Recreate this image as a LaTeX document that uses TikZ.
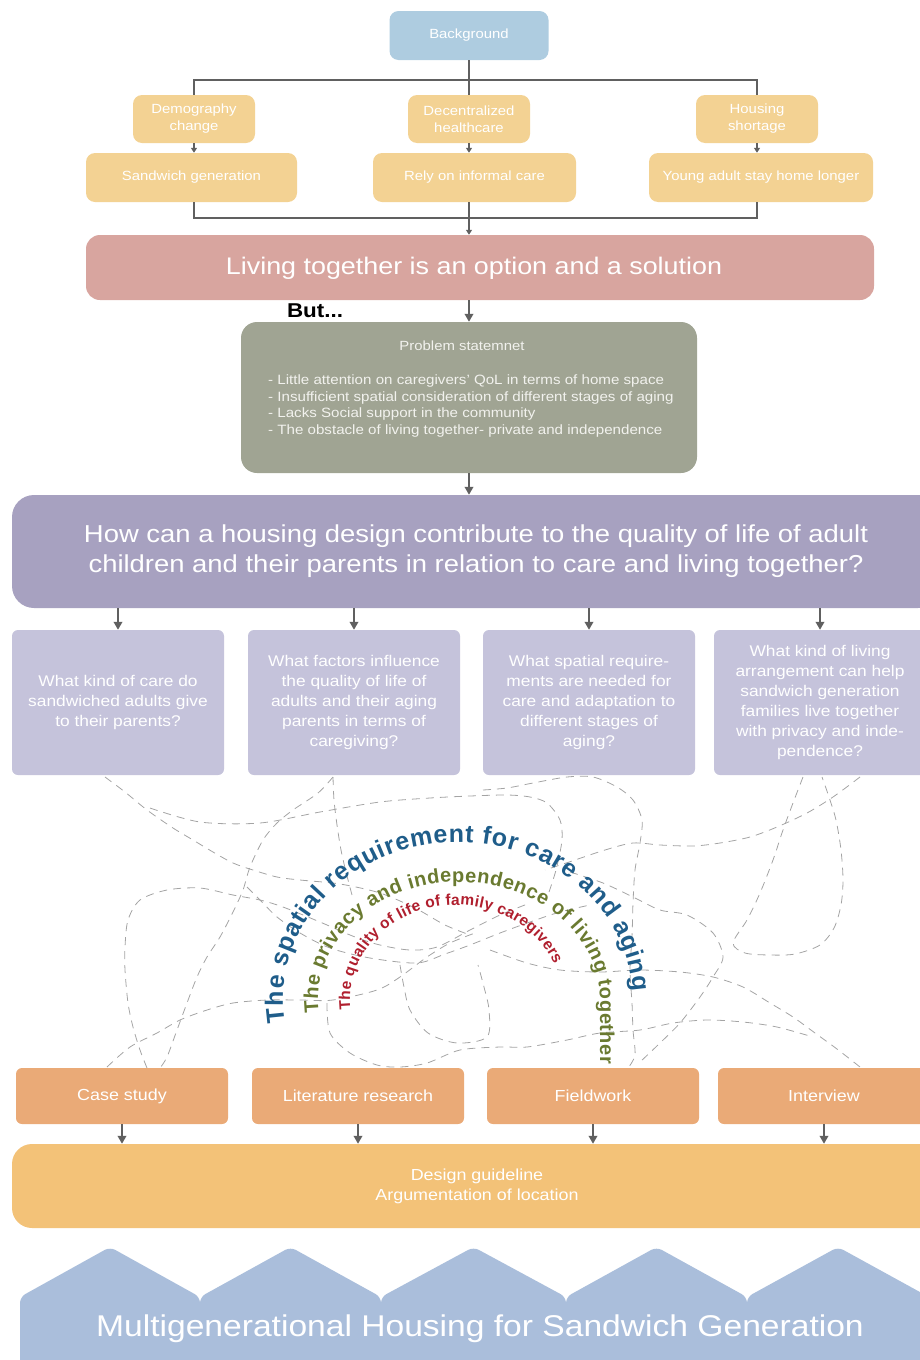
\documentclass[tikz,border=0pt]{standalone}
\usepackage{fontspec}
\setmainfont{Liberation Sans}[FakeStretch=1.12]
\newfontfamily\arcfont{Liberation Sans}
\usetikzlibrary{arrows.meta,decorations.text}
\definecolor{cbg}{HTML}{AECCE0}
\definecolor{cyel}{HTML}{F3D293}
\definecolor{cliv}{HTML}{D8A59F}
\definecolor{cprob}{HTML}{A0A493}
\definecolor{cptxt}{HTML}{F2F2EE}
\definecolor{cq}{HTML}{A7A1C0}
\definecolor{csub}{HTML}{C5C3DB}
\definecolor{cmeth}{HTML}{EAAA77}
\definecolor{cdes}{HTML}{F3C278}
\definecolor{chouse}{HTML}{AABEDB}
\definecolor{cgray}{HTML}{606060}
\definecolor{cnet}{HTML}{A4A4A4}
\definecolor{cblue}{HTML}{1F5D8A}
\definecolor{cgreen}{HTML}{6A7A30}
\definecolor{cred}{HTML}{B01F2E}
\begin{document}
\begin{tikzpicture}[x=1pt,y=-1pt,
  base/.style={inner sep=0pt, text=white, align=center},
  topbox/.style={base, fill=cyel, rounded corners=9pt, font=\fontsize{13.3}{17}\selectfont},
  conn/.style={draw=cgray, line width=2pt},
  arrs/.style={conn, -{Triangle[length=5pt,width=6pt]}},
  arrm/.style={draw=cgray, line width=2.6pt, -{Triangle[length=8pt,width=8.5pt]}},
  net/.style={draw=cnet, line width=0.8pt, dash pattern=on 8pt off 6pt},
  subbox/.style={base, fill=csub, rounded corners=6pt, minimum width=212pt, minimum height=145pt, font=\fontsize{15.5}{20}\selectfont},
  methbox/.style={base, fill=cmeth, rounded corners=6pt, minimum width=212pt, minimum height=56pt, font=\fontsize{16}{20}\selectfont},
  lbl/.style={inner sep=0pt, text=white, align=center},
  house/.style={fill=chouse, rounded corners=6pt}
]
\useasboundingbox (0,0) rectangle (919,1360);

% ---------- top part ----------
\node[base, fill=cbg, rounded corners=9pt, minimum width=159pt, minimum height=49pt, font=\fontsize{13.3}{16}\selectfont] (bg) at (469,35.5) {Background};

\node[topbox, minimum width=122pt, minimum height=48pt] (dem) at (194,119) {Demography\\change};
\node[topbox, minimum width=122pt, minimum height=48pt] (dec) at (469,119) {Decentralized\\healthcare};
\node[topbox, minimum width=122pt, minimum height=48pt] (hs) at (757,119) {Housing\\shortage};

\node[topbox, minimum width=211pt, minimum height=49pt] (sw) at (191.5,177.5) {Sandwich generation};
\node[topbox, minimum width=203pt, minimum height=49pt] (rely) at (474.5,177.5) {Rely on informal care};
\node[topbox, minimum width=224pt, minimum height=49pt] (yg) at (761,177.5) {Young adult stay home longer};

\coordinate (topbar) at (469,80);
\coordinate (botbar) at (469,218);
\draw[conn] (bg.south) -- (dec.north);
\draw[conn] (dem.north) -- (dem.north |- topbar) -- (hs.north |- topbar) -- (hs.north);
\draw[arrs] (dem.south) -- (dem.south |- sw.north);
\draw[arrs] (dec.south) -- (dec.south |- rely.north);
\draw[arrs] (hs.south) -- (hs.south |- yg.north);

\node[base, fill=cliv, rounded corners=14pt, minimum width=788pt, minimum height=65pt] (liv) at (480,267.5) {};
\node[lbl, font=\fontsize{24}{28}\selectfont] (livtxt) at (474,268) {Living together is an option and a solution};

\draw[conn] (dem.south |- sw.south) -- (dem.south |- botbar) -- (hs.south |- botbar) -- (hs.south |- yg.south);
\draw[arrs] (dec.south |- rely.south) -- (dec.south |- liv.north);

\node[inner sep=0pt, font=\bfseries\fontsize{20}{20}\selectfont] (but) at (315,311) {But...};

% ---------- problem statement ----------
\node[base, fill=cprob, rounded corners=16pt, minimum width=456pt, minimum height=151pt] (prob) at (469,397.5) {};
\node[lbl, text=cptxt, font=\fontsize{13.3}{16}\selectfont] (ptitle) at (462,346) {Problem statemnet};
\node[lbl, text=cptxt, align=left, anchor=west, font=\fontsize{13.5}{16.7}\selectfont] (plist) at (268,406)
 {- Little attention on caregivers' QoL in terms of home space\\
  - Insufficient spatial consideration of different stages of aging\\
  - Lacks Social support in the community\\
  - The obstacle of living together- private and independence};
\draw[arrm] (liv.south -| prob.north) -- (prob.north);

% ---------- research question ----------
\node[base, fill=cq, rounded corners=22pt, minimum width=928pt, minimum height=113pt, font=\fontsize{24.5}{30}\selectfont] (q) at (476,551.5)
 {How can a housing design contribute to the quality of life of adult\\children and their parents in relation to care and living together?};
\draw[arrm] (prob.south) -- (prob.south |- q.north);

\node[subbox] (s1) at (118,702.5) {What kind of care do\\sandwiched adults give\\to their parents?};
\node[subbox] (s2) at (354,702.5) {What factors influence\\the quality of life of\\adults and their aging\\parents in terms of\\caregiving?};
\node[subbox] (s3) at (589,702.5) {What spatial require-\\ments are needed for\\care and adaptation to\\different stages of\\aging?};
\node[subbox] (s4) at (820,702.5) {What kind of living\\arrangement can help\\sandwich generation\\families live together\\with privacy and inde-\\pendence?};
\foreach \s in {s1,s2,s3,s4} {\draw[arrm] (q.south -| \s.north) -- (\s.north);}

% ---------- dashed network ----------
\draw[net] plot[smooth] coordinates {(105,777) (125,792) (147,810) (173,828) (193,840) (213,852) (233,863) (253,870) (277,877) (300,880) (340,884) (380,893) (415,908) (445,925) (470,935)};
\draw[net] plot[smooth] coordinates {(150,808) (200,822) (260,823) (320,812) (380,802) (430,798) (470,796) (507,795) (530,797) (547,803) (560,820) (562,840) (556,870) (548,895)};
\draw[net] plot[smooth] coordinates {(333,777) (318,793) (293,810) (277,823) (263,840) (250,867) (243,890) (233,912) (220,937) (207,957) (197,977) (187,1003) (177,1030) (167,1057) (160,1068)};
\draw[net] plot[smooth] coordinates {(333,777) (334,800) (337,825) (341,850) (346,872) (352,895)};
\draw[net] plot[smooth] coordinates {(147,1068) (140,1050) (133,1027) (128,1003) (125,970) (125,947) (128,920) (140,900) (167,890) (200,888) (233,895) (260,900) (283,907) (320,922) (355,937) (380,945) (410,950) (437,947) (470,930) (500,915) (530,903)};
\draw[net] plot[smooth] coordinates {(247,887) (263,903) (277,917) (300,933) (330,948) (370,958) (417,963) (445,954) (470,945) (500,933) (530,922) (560,912) (590,905)};
\draw[net] plot[smooth] coordinates {(107,1067) (130,1047) (157,1033) (180,1020) (207,1010) (233,1003) (267,1000) (300,1000) (333,1000) (377,990) (400,977) (427,957) (450,943) (475,933)};
\draw[net] plot[smooth] coordinates {(327,1003) (330,1033) (350,1053) (377,1065) (400,1067) (427,1063) (460,1050) (500,1047) (527,1047) (567,1040) (600,1033) (640,1030) (673,1023) (707,1020) (743,1022) (777,1027) (813,1037)};
\draw[net] plot[smooth] coordinates {(400,965) (404,987) (410,1010) (428,1033) (457,1043) (487,1037) (489,1010) (484,987) (478,965)};
\draw[net] plot[smooth] coordinates {(483,790) (507,788) (533,783) (567,777) (593,777) (617,787) (633,800) (642,820) (640,843) (635,870) (633,903) (632,937) (630,970) (632,1003) (633,1030) (635,1055) (628,1068)};
\draw[net] plot[smooth] coordinates {(860,777) (833,797) (807,813) (777,827) (750,837) (720,843) (693,846) (660,845) (633,843) (605,850) (575,860) (545,870)};
\draw[net] plot[smooth] coordinates {(803,777) (793,803) (783,830) (773,860) (760,893) (747,920) (733,943) (745,953) (770,955) (795,954) (820,945) (834,928) (841,905) (843,880) (841,850) (836,820) (829,797) (822,777)};
\draw[net] plot[smooth] coordinates {(570,872) (603,883) (633,897) (660,910) (687,915) (713,933) (723,957) (713,977) (700,997) (680,1023) (660,1043) (640,1062)};
\draw[net] plot[smooth] coordinates {(490,950) (527,963) (560,970) (600,972) (640,970) (680,972) (713,977) (743,987) (770,1003) (793,1017) (815,1033) (837,1049) (860,1067)};

% ---------- arc texts ----------
\path[decorate, decoration={text along path, text align={fit to path}, text color=cblue,
   text={|\arcfont\bfseries\fontsize{25}{25}\selectfont|The spatial requirement for care and aging}},
   shift={(458,1000)}] (-188:175 and 158) arc[start angle=-188, end angle=-3, x radius=175, y radius=158];
\path[decorate, decoration={text along path, text align={fit to path}, text color=cgreen,
   text={|\arcfont\bfseries\fontsize{20}{20}\selectfont|The privacy and independence of living together}},
   shift={(459,1000)}] (-186:141 and 118) arc[start angle=-186, end angle=0, x radius=141, y radius=118] -- (141,64);
\path[decorate, decoration={text along path, text align={fit to path}, text color=cred,
   text={|\arcfont\bfseries\fontsize{15.5}{15.5}\selectfont|The quality of life of family caregivers}},
   shift={(456,1000)}] (-186:106 and 95) arc[start angle=-186, end angle=-22, x radius=106, y radius=95];

% ---------- methods ----------
\node[methbox] (m1) at (122,1096) {Case study};
\node[methbox] (m2) at (358,1096) {Literature research};
\node[methbox] (m3) at (593,1096) {Fieldwork};
\node[methbox] (m4) at (824,1096) {Interview};

\node[base, fill=cdes, rounded corners=20pt, minimum width=930pt, minimum height=84pt, font=\fontsize{16}{20}\selectfont] (des) at (477,1186) {Design guideline\\Argumentation of location};
\foreach \m in {m1,m2,m3,m4} {\draw[arrm] (\m.south) -- (\m.south |- des.north);}

% ---------- houses ----------
\foreach \a/\b in {20/200, 200/381, 381/566, 566/747, 747/929} {
  \fill[house] (\a,1375) -- (\a,1297) -- ({(\a+\b)/2},1247) -- (\b,1297) -- (\b,1375) -- cycle;
}
\node[lbl, font=\fontsize{30}{30}\selectfont] (title) at (480,1329) {Multigenerational Housing for Sandwich Generation};
\end{tikzpicture}
\end{document}
